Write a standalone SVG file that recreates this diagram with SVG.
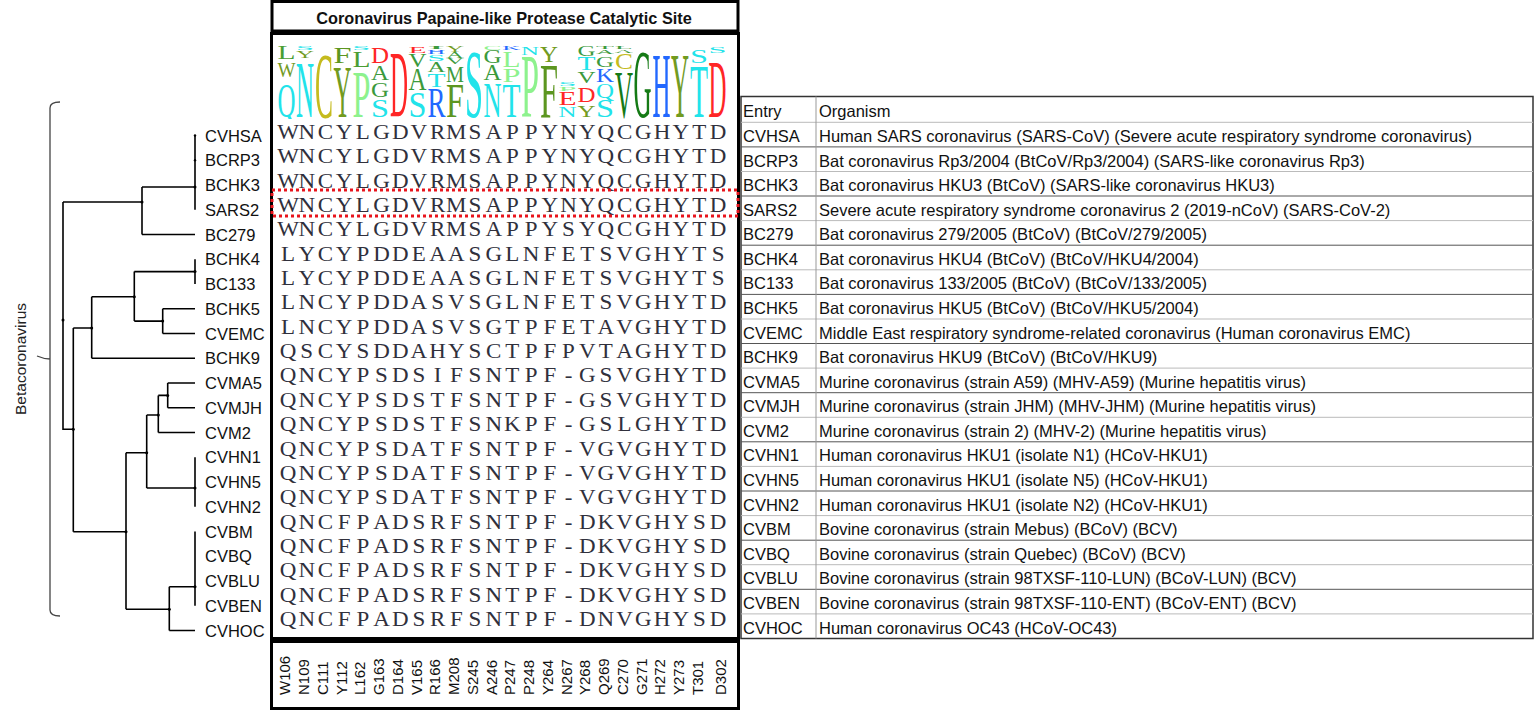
<svg xmlns="http://www.w3.org/2000/svg" width="1536" height="710" viewBox="0 0 1536 710">
<style>
.box{fill:#fff;stroke:#000;stroke-width:3}
.ttl{font-family:"Liberation Sans",Arial,sans-serif;font-weight:bold;font-size:16.3px;fill:#111}
.sq{font-family:"Liberation Serif","Times New Roman",serif;font-size:20px;fill:#30303c}
.lg{font-family:"Liberation Serif","Times New Roman",serif}
.t{font-family:"Liberation Sans",Arial,sans-serif;font-size:16.5px;fill:#111}
.pos{font-family:"Liberation Sans",Arial,sans-serif;font-size:15px;fill:#111}
.br{fill:none;stroke:#000;stroke-width:1.6}
.dot{fill:#000}
.cy{fill:#21e3ea}.ol{fill:#729b1f}.yc{fill:#c5bb1e}.pp{fill:#8df28d}.gl{fill:#4a9e34}
.gf{fill:#5c9620}.rd{fill:#ff2626}.ga{fill:#3c9a3c}.dg{fill:#157a15}.bl{fill:#2268ff}
.hl{fill:none;stroke:#bbb;stroke-width:1}.dl{fill:none;stroke:#555;stroke-width:1}
</style>
<defs>
<clipPath id="logoclip"><rect x="274" y="40" width="463" height="79"/></clipPath>
</defs>
<rect width="1536" height="710" fill="#fff"/>

<g id="title">
<rect class="box" x="272" y="1.5" width="466" height="29.5"/>
<text class="ttl" x="504" y="24" text-anchor="middle">Coronavirus Papaine-like Protease Catalytic Site</text>
</g>

<g id="alignment-box">
<rect class="box" x="271.5" y="33.5" width="467" height="605"/>
</g>

<g id="logo" class="lg" clip-path="url(#logoclip)">
<text x="277.4" y="59" font-size="18.2" textLength="18" lengthAdjust="spacingAndGlyphs" class="gl">L</text>
<text x="277.4" y="77" font-size="21.2" textLength="18" lengthAdjust="spacingAndGlyphs" class="ol">W</text>
<text x="277.4" y="117" font-size="48.5" textLength="18" lengthAdjust="spacingAndGlyphs" class="cy">Q</text>

<text x="296.1" y="50" font-size="6.1" textLength="18" lengthAdjust="spacingAndGlyphs" class="cy">S</text>
<text x="296.1" y="58" font-size="10.6" textLength="18" lengthAdjust="spacingAndGlyphs" class="ol">Y</text>
<text x="296.1" y="117" font-size="80.3" textLength="18" lengthAdjust="spacingAndGlyphs" class="cy">N</text>

<text x="314.9" y="117" font-size="93.9" textLength="18" lengthAdjust="spacingAndGlyphs" class="yc">C</text>

<text x="333.6" y="63" font-size="22.7" textLength="18" lengthAdjust="spacingAndGlyphs" class="gf">F</text>
<text x="333.6" y="117" font-size="74.2" textLength="18" lengthAdjust="spacingAndGlyphs" class="ol">Y</text>

<text x="352.4" y="50" font-size="6.1" textLength="18" lengthAdjust="spacingAndGlyphs" class="cy">S</text>
<text x="352.4" y="67" font-size="22.7" textLength="18" lengthAdjust="spacingAndGlyphs" class="gl">L</text>
<text x="352.4" y="117" font-size="68.2" textLength="18" lengthAdjust="spacingAndGlyphs" class="pp">P</text>

<text x="371.1" y="63" font-size="22.7" textLength="18" lengthAdjust="spacingAndGlyphs" class="rd">D</text>
<text x="371.1" y="80" font-size="21.2" textLength="18" lengthAdjust="spacingAndGlyphs" class="ga">A</text>
<text x="371.1" y="97" font-size="21.2" textLength="18" lengthAdjust="spacingAndGlyphs" class="ga">G</text>
<text x="371.1" y="117" font-size="25.8" textLength="18" lengthAdjust="spacingAndGlyphs" class="cy">S</text>

<text x="389.9" y="117" font-size="95.5" textLength="18" lengthAdjust="spacingAndGlyphs" class="rd">D</text>

<text x="408.6" y="53" font-size="9.1" textLength="18" lengthAdjust="spacingAndGlyphs" class="rd">E</text>
<text x="408.6" y="67" font-size="18.2" textLength="18" lengthAdjust="spacingAndGlyphs" class="ga">V</text>
<text x="408.6" y="90" font-size="31.8" textLength="18" lengthAdjust="spacingAndGlyphs" class="ga">A</text>
<text x="408.6" y="117" font-size="34.8" textLength="18" lengthAdjust="spacingAndGlyphs" class="cy">S</text>

<text x="427.4" y="49" font-size="4.5" textLength="18" lengthAdjust="spacingAndGlyphs" class="ga">I</text>
<text x="427.4" y="54" font-size="6.1" textLength="18" lengthAdjust="spacingAndGlyphs" class="bl">H</text>
<text x="427.4" y="61" font-size="9.1" textLength="18" lengthAdjust="spacingAndGlyphs" class="cy">S</text>
<text x="427.4" y="72" font-size="15.2" textLength="18" lengthAdjust="spacingAndGlyphs" class="ga">A</text>
<text x="427.4" y="87" font-size="19.7" textLength="18" lengthAdjust="spacingAndGlyphs" class="cy">T</text>
<text x="427.4" y="117" font-size="42.4" textLength="18" lengthAdjust="spacingAndGlyphs" class="bl">R</text>

<text x="446.1" y="52" font-size="7.6" textLength="18" lengthAdjust="spacingAndGlyphs" class="ol">Y</text>
<text x="446.1" y="58" font-size="7.6" textLength="18" lengthAdjust="spacingAndGlyphs" class="ga">A</text>
<text x="446.1" y="64" font-size="7.6" textLength="18" lengthAdjust="spacingAndGlyphs" class="ga">V</text>
<text x="446.1" y="82" font-size="22.7" textLength="18" lengthAdjust="spacingAndGlyphs" class="ga">M</text>
<text x="446.1" y="117" font-size="48.5" textLength="18" lengthAdjust="spacingAndGlyphs" class="gf">F</text>

<text x="464.9" y="117" font-size="97" textLength="18" lengthAdjust="spacingAndGlyphs" class="cy">S</text>

<text x="483.6" y="50" font-size="6.1" textLength="18" lengthAdjust="spacingAndGlyphs" class="pp">C</text>
<text x="483.6" y="63" font-size="18.2" textLength="18" lengthAdjust="spacingAndGlyphs" class="ga">G</text>
<text x="483.6" y="80" font-size="22.7" textLength="18" lengthAdjust="spacingAndGlyphs" class="ga">A</text>
<text x="483.6" y="117" font-size="51.5" textLength="18" lengthAdjust="spacingAndGlyphs" class="cy">N</text>

<text x="502.4" y="50" font-size="6.1" textLength="18" lengthAdjust="spacingAndGlyphs" class="bl">K</text>
<text x="502.4" y="67" font-size="22.7" textLength="18" lengthAdjust="spacingAndGlyphs" class="pp">L</text>
<text x="502.4" y="82" font-size="18.2" textLength="18" lengthAdjust="spacingAndGlyphs" class="pp">P</text>
<text x="502.4" y="117" font-size="48.5" textLength="18" lengthAdjust="spacingAndGlyphs" class="cy">T</text>

<text x="521.1" y="55" font-size="12.1" textLength="18" lengthAdjust="spacingAndGlyphs" class="cy">N</text>
<text x="521.1" y="117" font-size="90.9" textLength="18" lengthAdjust="spacingAndGlyphs" class="pp">P</text>

<text x="539.9" y="62" font-size="22.7" textLength="18" lengthAdjust="spacingAndGlyphs" class="ol">Y</text>
<text x="539.9" y="117" font-size="77.3" textLength="18" lengthAdjust="spacingAndGlyphs" class="gf">F</text>

<text x="558.6" y="86" font-size="6.1" textLength="18" lengthAdjust="spacingAndGlyphs" class="cy">S</text>
<text x="558.6" y="90.5" font-size="5.3" textLength="18" lengthAdjust="spacingAndGlyphs" class="pp">P</text>
<text x="558.6" y="105" font-size="19.7" textLength="18" lengthAdjust="spacingAndGlyphs" class="rd">E</text>
<text x="558.6" y="117" font-size="15.2" textLength="18" lengthAdjust="spacingAndGlyphs" class="cy">N</text>

<text x="577.4" y="56" font-size="13.6" textLength="18" lengthAdjust="spacingAndGlyphs" class="ga">G</text>
<text x="577.4" y="70" font-size="18.2" textLength="18" lengthAdjust="spacingAndGlyphs" class="cy">T</text>
<text x="577.4" y="83" font-size="16.7" textLength="18" lengthAdjust="spacingAndGlyphs" class="ga">V</text>
<text x="577.4" y="102" font-size="21.2" textLength="18" lengthAdjust="spacingAndGlyphs" class="rd">D</text>
<text x="577.4" y="117" font-size="16.7" textLength="18" lengthAdjust="spacingAndGlyphs" class="ol">Y</text>

<text x="596.1" y="49" font-size="4.5" textLength="18" lengthAdjust="spacingAndGlyphs" class="ga">T</text>
<text x="596.1" y="54" font-size="6.1" textLength="18" lengthAdjust="spacingAndGlyphs" class="ga">A</text>
<text x="596.1" y="67" font-size="15.2" textLength="18" lengthAdjust="spacingAndGlyphs" class="ga">G</text>
<text x="596.1" y="82" font-size="19.7" textLength="18" lengthAdjust="spacingAndGlyphs" class="bl">K</text>
<text x="596.1" y="98" font-size="21.2" textLength="18" lengthAdjust="spacingAndGlyphs" class="cy">Q</text>
<text x="596.1" y="117" font-size="25.8" textLength="18" lengthAdjust="spacingAndGlyphs" class="cy">S</text>

<text x="614.9" y="49" font-size="4.5" textLength="18" lengthAdjust="spacingAndGlyphs" class="ga">L</text>
<text x="614.9" y="53" font-size="4.5" textLength="18" lengthAdjust="spacingAndGlyphs" class="ga">A</text>
<text x="614.9" y="69" font-size="22.7" textLength="18" lengthAdjust="spacingAndGlyphs" class="yc">C</text>
<text x="614.9" y="117" font-size="68.2" textLength="18" lengthAdjust="spacingAndGlyphs" class="dg">V</text>

<text x="633.6" y="117" font-size="97" textLength="18" lengthAdjust="spacingAndGlyphs" class="dg">G</text>
<text x="652.4" y="117" font-size="93.9" textLength="18" lengthAdjust="spacingAndGlyphs" class="bl">H</text>
<text x="671.1" y="117" font-size="92.4" textLength="18" lengthAdjust="spacingAndGlyphs" class="ol">Y</text>

<text x="689.9" y="63" font-size="19.7" textLength="18" lengthAdjust="spacingAndGlyphs" class="cy">S</text>
<text x="689.9" y="117" font-size="75.8" textLength="18" lengthAdjust="spacingAndGlyphs" class="cy">T</text>

<text x="708.6" y="53" font-size="9.1" textLength="18" lengthAdjust="spacingAndGlyphs" class="cy">S</text>
<text x="708.6" y="117" font-size="83.3" textLength="18" lengthAdjust="spacingAndGlyphs" class="rd">D</text>
</g>

<g id="sequences" class="sq" transform="scale(1.15,1)" text-anchor="middle">
<text x="250.43 266.70 282.96 299.22 315.48 331.74 348.00 364.26 380.52 396.78 413.04 429.30 445.57 461.83 478.09 494.35 510.61 526.87 543.13 559.39 575.65 591.91 608.17 624.43" y="139">WNCYLGDVRMSAPPYNYQCGHYTD</text>
<text x="250.43 266.70 282.96 299.22 315.48 331.74 348.00 364.26 380.52 396.78 413.04 429.30 445.57 461.83 478.09 494.35 510.61 526.87 543.13 559.39 575.65 591.91 608.17 624.43" y="163.35">WNCYLGDVRMSAPPYNYQCGHYTD</text>
<text x="250.43 266.70 282.96 299.22 315.48 331.74 348.00 364.26 380.52 396.78 413.04 429.30 445.57 461.83 478.09 494.35 510.61 526.87 543.13 559.39 575.65 591.91 608.17 624.43" y="187.7">WNCYLGDVRMSAPPYNYQCGHYTD</text>
<text x="250.43 266.70 282.96 299.22 315.48 331.74 348.00 364.26 380.52 396.78 413.04 429.30 445.57 461.83 478.09 494.35 510.61 526.87 543.13 559.39 575.65 591.91 608.17 624.43" y="212.05">WNCYLGDVRMSAPPYNYQCGHYTD</text>
<text x="250.43 266.70 282.96 299.22 315.48 331.74 348.00 364.26 380.52 396.78 413.04 429.30 445.57 461.83 478.09 494.35 510.61 526.87 543.13 559.39 575.65 591.91 608.17 624.43" y="236.4">WNCYLGDVRMSAPPYSYQCGHYTD</text>
<text x="250.43 266.70 282.96 299.22 315.48 331.74 348.00 364.26 380.52 396.78 413.04 429.30 445.57 461.83 478.09 494.35 510.61 526.87 543.13 559.39 575.65 591.91 608.17 624.43" y="260.75">LYCYPDDEAASGLNFETSVGHYTS</text>
<text x="250.43 266.70 282.96 299.22 315.48 331.74 348.00 364.26 380.52 396.78 413.04 429.30 445.57 461.83 478.09 494.35 510.61 526.87 543.13 559.39 575.65 591.91 608.17 624.43" y="285.1">LYCYPDDEAASGLNFETSVGHYTS</text>
<text x="250.43 266.70 282.96 299.22 315.48 331.74 348.00 364.26 380.52 396.78 413.04 429.30 445.57 461.83 478.09 494.35 510.61 526.87 543.13 559.39 575.65 591.91 608.17 624.43" y="309.45">LNCYPDDASVSGLNFETSVGHYTD</text>
<text x="250.43 266.70 282.96 299.22 315.48 331.74 348.00 364.26 380.52 396.78 413.04 429.30 445.57 461.83 478.09 494.35 510.61 526.87 543.13 559.39 575.65 591.91 608.17 624.43" y="333.8">LNCYPDDASVSGTPFETAVGHYTD</text>
<text x="250.43 266.70 282.96 299.22 315.48 331.74 348.00 364.26 380.52 396.78 413.04 429.30 445.57 461.83 478.09 494.35 510.61 526.87 543.13 559.39 575.65 591.91 608.17 624.43" y="358.15">QSCYSDDAHYSCTPFPVTAGHYTD</text>
<text x="250.43 266.70 282.96 299.22 315.48 331.74 348.00 364.26 380.52 396.78 413.04 429.30 445.57 461.83 478.09 494.35 510.61 526.87 543.13 559.39 575.65 591.91 608.17 624.43" y="382.5">QNCYPSDSIFSNTPF-GSVGHYTD</text>
<text x="250.43 266.70 282.96 299.22 315.48 331.74 348.00 364.26 380.52 396.78 413.04 429.30 445.57 461.83 478.09 494.35 510.61 526.87 543.13 559.39 575.65 591.91 608.17 624.43" y="406.85">QNCYPSDSTFSNTPF-GSVGHYTD</text>
<text x="250.43 266.70 282.96 299.22 315.48 331.74 348.00 364.26 380.52 396.78 413.04 429.30 445.57 461.83 478.09 494.35 510.61 526.87 543.13 559.39 575.65 591.91 608.17 624.43" y="431.2">QNCYPSDSTFSNKPF-GSLGHYTD</text>
<text x="250.43 266.70 282.96 299.22 315.48 331.74 348.00 364.26 380.52 396.78 413.04 429.30 445.57 461.83 478.09 494.35 510.61 526.87 543.13 559.39 575.65 591.91 608.17 624.43" y="455.55">QNCYPSDATFSNTPF-VGVGHYTD</text>
<text x="250.43 266.70 282.96 299.22 315.48 331.74 348.00 364.26 380.52 396.78 413.04 429.30 445.57 461.83 478.09 494.35 510.61 526.87 543.13 559.39 575.65 591.91 608.17 624.43" y="479.9">QNCYPSDATFSNTPF-VGVGHYTD</text>
<text x="250.43 266.70 282.96 299.22 315.48 331.74 348.00 364.26 380.52 396.78 413.04 429.30 445.57 461.83 478.09 494.35 510.61 526.87 543.13 559.39 575.65 591.91 608.17 624.43" y="504.25">QNCYPSDATFSNTPF-VGVGHYTD</text>
<text x="250.43 266.70 282.96 299.22 315.48 331.74 348.00 364.26 380.52 396.78 413.04 429.30 445.57 461.83 478.09 494.35 510.61 526.87 543.13 559.39 575.65 591.91 608.17 624.43" y="528.6">QNCFPADSRFSNTPF-DKVGHYSD</text>
<text x="250.43 266.70 282.96 299.22 315.48 331.74 348.00 364.26 380.52 396.78 413.04 429.30 445.57 461.83 478.09 494.35 510.61 526.87 543.13 559.39 575.65 591.91 608.17 624.43" y="552.95">QNCFPADSRFSNTPF-DKVGHYSD</text>
<text x="250.43 266.70 282.96 299.22 315.48 331.74 348.00 364.26 380.52 396.78 413.04 429.30 445.57 461.83 478.09 494.35 510.61 526.87 543.13 559.39 575.65 591.91 608.17 624.43" y="577.3">QNCFPADSRFSNTPF-DKVGHYSD</text>
<text x="250.43 266.70 282.96 299.22 315.48 331.74 348.00 364.26 380.52 396.78 413.04 429.30 445.57 461.83 478.09 494.35 510.61 526.87 543.13 559.39 575.65 591.91 608.17 624.43" y="601.65">QNCFPADSRFSNTPF-DKVGHYSD</text>
<text x="250.43 266.70 282.96 299.22 315.48 331.74 348.00 364.26 380.52 396.78 413.04 429.30 445.57 461.83 478.09 494.35 510.61 526.87 543.13 559.39 575.65 591.91 608.17 624.43" y="626">QNCFPADSRFSNTPF-DNVGHYSD</text>
</g>

<rect id="sars2-highlight" x="272" y="190" width="466" height="26" fill="none" stroke="#e8141c" stroke-width="3" stroke-dasharray="3 3"/>

<g id="positions">
<rect class="box" x="271.5" y="641.5" width="467" height="67"/>
<g class="pos">
<text transform="translate(290.4,695) rotate(-90)">W106</text>
<text transform="translate(309.1,695) rotate(-90)">N109</text>
<text transform="translate(327.9,695) rotate(-90)">C111</text>
<text transform="translate(346.6,695) rotate(-90)">Y112</text>
<text transform="translate(365.4,695) rotate(-90)">L162</text>
<text transform="translate(384.1,695) rotate(-90)">G163</text>
<text transform="translate(402.9,695) rotate(-90)">D164</text>
<text transform="translate(421.6,695) rotate(-90)">V165</text>
<text transform="translate(440.4,695) rotate(-90)">R166</text>
<text transform="translate(459.1,695) rotate(-90)">M208</text>
<text transform="translate(477.9,695) rotate(-90)">S245</text>
<text transform="translate(496.6,695) rotate(-90)">A246</text>
<text transform="translate(515.4,695) rotate(-90)">P247</text>
<text transform="translate(534.1,695) rotate(-90)">P248</text>
<text transform="translate(552.9,695) rotate(-90)">Y264</text>
<text transform="translate(571.6,695) rotate(-90)">N267</text>
<text transform="translate(590.4,695) rotate(-90)">Y268</text>
<text transform="translate(609.1,695) rotate(-90)">Q269</text>
<text transform="translate(627.9,695) rotate(-90)">C270</text>
<text transform="translate(646.6,695) rotate(-90)">G271</text>
<text transform="translate(665.4,695) rotate(-90)">H272</text>
<text transform="translate(684.1,695) rotate(-90)">Y273</text>
<text transform="translate(702.9,695) rotate(-90)">T301</text>
<text transform="translate(726.4,695) rotate(-90)">D302</text>
</g>
</g>

<g id="betacoronavirus">
<path d="M60,102 Q50,102 50,108 V610 Q50,616 60,616 M50,359 Q44,359 37,356" fill="none" stroke="#444" stroke-width="1.3"/>
<text transform="translate(26,359) rotate(-90)" text-anchor="middle" style="font-family:'Liberation Sans',Arial,sans-serif;font-size:15.5px;fill:#222">Betacoronavirus</text>
</g>

<g id="tree-connectors" class="br">
<path d="M195,135.5 V209.75 M142,187 H195"/>
<path d="M142,187 V234.5 M142,234.5 H195"/>
<path d="M63,202 H142 M63,202 V429.3 H73.3"/>
<path d="M73.3,328 V531.7 M73.3,328 H91.7"/>
<path d="M91.7,296.7 V358.25 M91.7,358.25 H195 M91.7,296.7 H134.3"/>
<path d="M134.3,271.6 V321.1 M134.3,271.6 H195 M195,259.25 V284"/>
<path d="M134.3,321.1 H162.7 M162.7,308.75 V333.5 M162.7,308.75 H195 M162.7,333.5 H195"/>
<path d="M73.3,531.7 H126 M126,452.7 V609.3 M126,452.7 H146.7"/>
<path d="M146.7,415 V488 M146.7,488 H195 M195,457.25 V506.75"/>
<path d="M146.7,415 H158.3 M158.3,395.4 V432.5 M158.3,432.5 H195"/>
<path d="M158.3,395.4 H167.7 M167.7,383 V407.75 M167.7,383 H195 M167.7,407.75 H195"/>
<path d="M126,609.3 H169.3 M169.3,586.7 V630.5 M169.3,630.5 H195"/>
<path d="M169.3,586.7 H195 M195,531.5 V605.75"/>
</g>
<g id="tree-nodes" class="dot">
<circle cx="195" cy="187" r="1.5"/><circle cx="142" cy="202" r="1.5"/><circle cx="63" cy="320" r="1.5"/>
<circle cx="73.3" cy="429.3" r="1.5"/><circle cx="91.7" cy="328" r="1.5"/><circle cx="134.3" cy="296.7" r="1.5"/>
<circle cx="195" cy="271.6" r="1.5"/><circle cx="162.7" cy="321.1" r="1.5"/><circle cx="126" cy="531.7" r="1.5"/>
<circle cx="146.7" cy="452.7" r="1.5"/><circle cx="158.3" cy="415" r="1.5"/><circle cx="167.7" cy="395.4" r="1.5"/>
<circle cx="195" cy="488" r="1.5"/><circle cx="169.3" cy="609.3" r="1.5"/><circle cx="195" cy="586.7" r="1.5"/>
<circle cx="195" cy="160.25" r="1.2"/><circle cx="195" cy="135.5" r="1.2"/>
</g>

<g id="tree-leaves" class="t">
<g id="leaf-CVHSA"><text x="205" y="141.5">CVHSA</text></g>
<g id="leaf-BCRP3"><text x="205" y="166.25">BCRP3</text></g>
<g id="leaf-BCHK3"><text x="205" y="191">BCHK3</text></g>
<g id="leaf-SARS2"><text x="205" y="215.75">SARS2</text></g>
<g id="leaf-BC279"><text x="205" y="240.5">BC279</text></g>
<g id="leaf-BCHK4"><text x="205" y="265.25">BCHK4</text></g>
<g id="leaf-BC133"><text x="205" y="290">BC133</text></g>
<g id="leaf-BCHK5"><text x="205" y="314.75">BCHK5</text></g>
<g id="leaf-CVEMC"><text x="205" y="339.5">CVEMC</text></g>
<g id="leaf-BCHK9"><text x="205" y="364.25">BCHK9</text></g>
<g id="leaf-CVMA5"><text x="205" y="389">CVMA5</text></g>
<g id="leaf-CVMJH"><text x="205" y="413.75">CVMJH</text></g>
<g id="leaf-CVM2"><text x="205" y="438.5">CVM2</text></g>
<g id="leaf-CVHN1"><text x="205" y="463.25">CVHN1</text></g>
<g id="leaf-CVHN5"><text x="205" y="488">CVHN5</text></g>
<g id="leaf-CVHN2"><text x="205" y="512.75">CVHN2</text></g>
<g id="leaf-CVBM"><text x="205" y="537.5">CVBM</text></g>
<g id="leaf-CVBQ"><text x="205" y="562.25">CVBQ</text></g>
<g id="leaf-CVBLU"><text x="205" y="587">CVBLU</text></g>
<g id="leaf-CVBEN"><text x="205" y="611.75">CVBEN</text></g>
<g id="leaf-CVHOC"><text x="205" y="636.5">CVHOC</text></g>
</g>

<g id="table">
<rect x="741" y="96.5" width="792" height="542" fill="#fff" stroke="#333" stroke-width="1.5"/>
<path class="hl" d="M741,122.3 H1533 M741,171.5 H1533 M741,220.6 H1533 M741,269.8 H1533 M741,319 H1533 M741,368.1 H1533 M741,417.3 H1533 M741,466.4 H1533 M741,515.6 H1533 M741,564.7 H1533 M741,613.9 H1533"/>
<path class="dl" d="M741,146.9 H1533 M741,196 H1533 M741,245.2 H1533 M741,294.4 H1533 M741,343.5 H1533 M741,392.7 H1533 M741,441.8 H1533 M741,491 H1533 M741,540.2 H1533 M741,589.3 H1533"/>
<path d="M816,96.5 V638.5" stroke="#999" stroke-width="1"/>
<g class="t">
<text x="743" y="117.3">Entry</text><text x="819" y="117.3">Organism</text>
<text x="743" y="141.9">CVHSA</text><text x="819" y="141.9">Human SARS coronavirus (SARS-CoV) (Severe acute respiratory syndrome coronavirus)</text>
<text x="743" y="166.5">BCRP3</text><text x="819" y="166.5">Bat coronavirus Rp3/2004 (BtCoV/Rp3/2004) (SARS-like coronavirus Rp3)</text>
<text x="743" y="191">BCHK3</text><text x="819" y="191">Bat coronavirus HKU3 (BtCoV) (SARS-like coronavirus HKU3)</text>
<text x="743" y="215.6">SARS2</text><text x="819" y="215.6">Severe acute respiratory syndrome coronavirus 2 (2019-nCoV) (SARS-CoV-2)</text>
<text x="743" y="240.2">BC279</text><text x="819" y="240.2">Bat coronavirus 279/2005 (BtCoV) (BtCoV/279/2005)</text>
<text x="743" y="264.8">BCHK4</text><text x="819" y="264.8">Bat coronavirus HKU4 (BtCoV) (BtCoV/HKU4/2004)</text>
<text x="743" y="289.4">BC133</text><text x="819" y="289.4">Bat coronavirus 133/2005 (BtCoV) (BtCoV/133/2005)</text>
<text x="743" y="314">BCHK5</text><text x="819" y="314">Bat coronavirus HKU5 (BtCoV) (BtCoV/HKU5/2004)</text>
<text x="743" y="338.5">CVEMC</text><text x="819" y="338.5">Middle East respiratory syndrome-related coronavirus (Human coronavirus EMC)</text>
<text x="743" y="363.1">BCHK9</text><text x="819" y="363.1">Bat coronavirus HKU9 (BtCoV) (BtCoV/HKU9)</text>
<text x="743" y="387.7">CVMA5</text><text x="819" y="387.7">Murine coronavirus (strain A59) (MHV-A59) (Murine hepatitis virus)</text>
<text x="743" y="412.3">CVMJH</text><text x="819" y="412.3">Murine coronavirus (strain JHM) (MHV-JHM) (Murine hepatitis virus)</text>
<text x="743" y="436.8">CVM2</text><text x="819" y="436.8">Murine coronavirus (strain 2) (MHV-2) (Murine hepatitis virus)</text>
<text x="743" y="461.4">CVHN1</text><text x="819" y="461.4">Human coronavirus HKU1 (isolate N1) (HCoV-HKU1)</text>
<text x="743" y="486">CVHN5</text><text x="819" y="486">Human coronavirus HKU1 (isolate N5) (HCoV-HKU1)</text>
<text x="743" y="510.6">CVHN2</text><text x="819" y="510.6">Human coronavirus HKU1 (isolate N2) (HCoV-HKU1)</text>
<text x="743" y="535.2">CVBM</text><text x="819" y="535.2">Bovine coronavirus (strain Mebus) (BCoV) (BCV)</text>
<text x="743" y="559.8">CVBQ</text><text x="819" y="559.8">Bovine coronavirus (strain Quebec) (BCoV) (BCV)</text>
<text x="743" y="584.3">CVBLU</text><text x="819" y="584.3">Bovine coronavirus (strain 98TXSF-110-LUN) (BCoV-LUN) (BCV)</text>
<text x="743" y="608.9">CVBEN</text><text x="819" y="608.9">Bovine coronavirus (strain 98TXSF-110-ENT) (BCoV-ENT) (BCV)</text>
<text x="743" y="633.5">CVHOC</text><text x="819" y="633.5">Human coronavirus OC43 (HCoV-OC43)</text>
</g>
</g>
</svg>
